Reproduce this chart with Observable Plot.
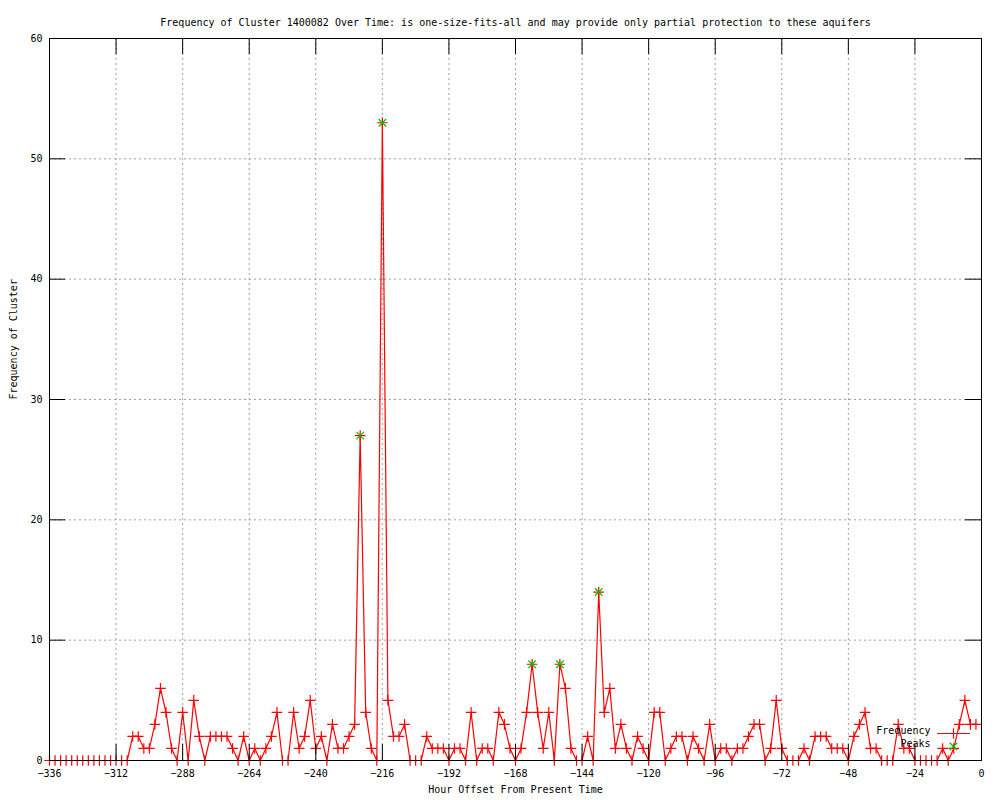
<!DOCTYPE html>
<html>
<head>
<meta charset="utf-8">
<script src="https://cdn.jsdelivr.net/npm/d3@7"></script>
<script src="https://cdn.jsdelivr.net/npm/@observablehq/plot@0.6"></script>
<style>
  html, body { margin: 0; padding: 0; background: #fff; }
  svg { display: block; }
</style>
</head>
<body>
<div id="chart"></div>
<script>
// ---- Texts ----
const titleText = "Frequency of Cluster 1400082 Over Time: is one-size-fits-all and may provide only partial protection to these aquifers";
const xLabel = "Hour Offset From Present Time";
const yLabel = "Frequency of Cluster";
const seriesNames = ["Frequency", "Peaks"];

// ---- Data ----
const hours = d3.range(-336, 0, 2); // one sample every 2 hours, -336 .. -2
const frequency = [
  0,0,0,0,0,0,0,0,0,0,
  0,0,0,0,0,2,2,1,1,3,
  6,4,1,0,4,0,5,2,0,2,
  2,2,2,1,0,2,0,1,0,1,
  2,4,0,0,4,1,2,5,1,2,
  0,3,1,1,2,3,27,4,1,0,
  53,5,2,2,3,0,0,0,2,1,
  1,1,0,1,1,0,4,0,1,1,
  0,4,3,1,0,1,4,8,4,1,
  4,0,8,6,1,0,0,2,0,14,
  4,6,1,3,1,0,2,1,0,4,
  4,0,1,2,2,0,2,1,0,3,
  0,1,1,0,1,1,2,3,3,0,
  1,5,1,0,0,0,1,0,2,2,
  2,1,1,1,0,2,3,4,1,1,
  0,0,0,3,1,1,0,0,0,0,
  0,1,0,1,3,5,3,3
];
const peakHours = [-224, -216, -162, -152, -138];
const peakValues = [27, 53, 8, 8, 14];

// ---- Ticks ----
const xTicks = [-336, -312, -288, -264, -240, -216, -192, -168, -144, -120, -96, -72, -48, -24, 0];
const yTicks = [0, 10, 20, 30, 40, 50, 60];

// ---- Derived tables ----
const freqData = hours.map((h, i) => ({hour: h, value: frequency[i]}));
const peakData = peakHours.map((h, i) => ({hour: h, value: peakValues[i]}));

const W = 1000, H = 800, mL = 49, mR = 19, mT = 38, mB = 40;
const TICK = 16;
const RED = "#ff0000", GREEN = "#00c000", GRID = "#a0a0a0";
const xGrid = xTicks.slice(1, -1);
const yGrid = yTicks.slice(1, -1);
const xMin = xTicks[0], xMax = xTicks[xTicks.length - 1];
const yMin = yTicks[0], yMax = yTicks[yTicks.length - 1];

const chart = Plot.plot({
  width: W, height: H,
  marginLeft: mL, marginRight: mR, marginTop: mT, marginBottom: mB,
  style: {fontFamily: "'DejaVu Sans Mono', monospace", fontSize: "10px", background: "#fff", color: "#000", overflow: "visible"},
  x: {domain: [xMin, xMax], ticks: xTicks, tickSize: 0, tickPadding: 9, label: null},
  y: {domain: [yMin, yMax], ticks: yTicks, tickSize: 0, tickPadding: 7, label: null},
  marks: [
    Plot.ruleX(xGrid, {x: d => d, stroke: GRID, strokeDasharray: "2,3"}),
    Plot.ruleY(yGrid, {y: d => d, stroke: GRID, strokeDasharray: "2,3"}),
    Plot.line(freqData, {x: "hour", y: "value", stroke: RED, strokeWidth: 1.2}),
    Plot.dot(freqData, {x: "hour", y: "value", symbol: "plus", stroke: RED, strokeWidth: 1.2, r: 3.5}),
    Plot.dot(peakData, {x: "hour", y: "value", symbol: "times", stroke: GREEN, strokeWidth: 1.2, r: 3.5}),
    Plot.frame({stroke: "#000"}),
    // inward ticks, mirrored on all sides
    Plot.ruleX(xTicks, {x: d => d, y1: yMin, y2: yMin, insetBottom: TICK, stroke: "#000"}),
    Plot.ruleX(xTicks, {x: d => d, y1: yMax, y2: yMax, insetTop: TICK, stroke: "#000"}),
    Plot.ruleY(yTicks, {y: d => d, x1: xMin, x2: xMin, insetLeft: TICK, stroke: "#000"}),
    Plot.ruleY(yTicks, {y: d => d, x1: xMax, x2: xMax, insetRight: TICK, stroke: "#000"}),
    // titles
    Plot.text([titleText], {frameAnchor: "top", dy: -20, fill: "#000"}),
    Plot.text([xLabel], {frameAnchor: "bottom", dy: 32, fill: "#000"}),
    Plot.text([yLabel], {frameAnchor: "left", dx: -36, rotate: -90, fill: "#000"}),
    // legend labels
    Plot.text([seriesNames[0]], {frameAnchor: "bottom-right", dx: -51, dy: -27, textAnchor: "end", fill: "#000"}),
    Plot.text([seriesNames[1]], {frameAnchor: "bottom-right", dx: -51, dy: -14, textAnchor: "end", fill: "#000"})
  ]
});

// legend samples
const svg = d3.select(chart);
const right = W - mR, bottom = H - mB;
const lg = svg.append("g").attr("class", "legend-samples");
lg.append("line")
  .attr("x1", right - 44).attr("x2", right - 11)
  .attr("y1", bottom - 27 + 0.5).attr("y2", bottom - 27 + 0.5)
  .style("stroke", RED).style("stroke-width", 1.2);
lg.append("path")
  .attr("d", d3.symbol(d3.symbolPlus, Math.PI * 3.5 * 3.5)())
  .attr("transform", `translate(${right - 27.5},${bottom - 27 + 0.5})`)
  .style("fill", "none").style("stroke", RED).style("stroke-width", 1.2);
lg.append("path")
  .attr("d", d3.symbol(d3.symbolTimes, Math.PI * 3.5 * 3.5)())
  .attr("transform", `translate(${right - 27.5},${bottom - 14 + 0.5})`)
  .style("fill", "none").style("stroke", GREEN).style("stroke-width", 1.2);

document.getElementById("chart").appendChild(chart);
</script>
</body>
</html>
